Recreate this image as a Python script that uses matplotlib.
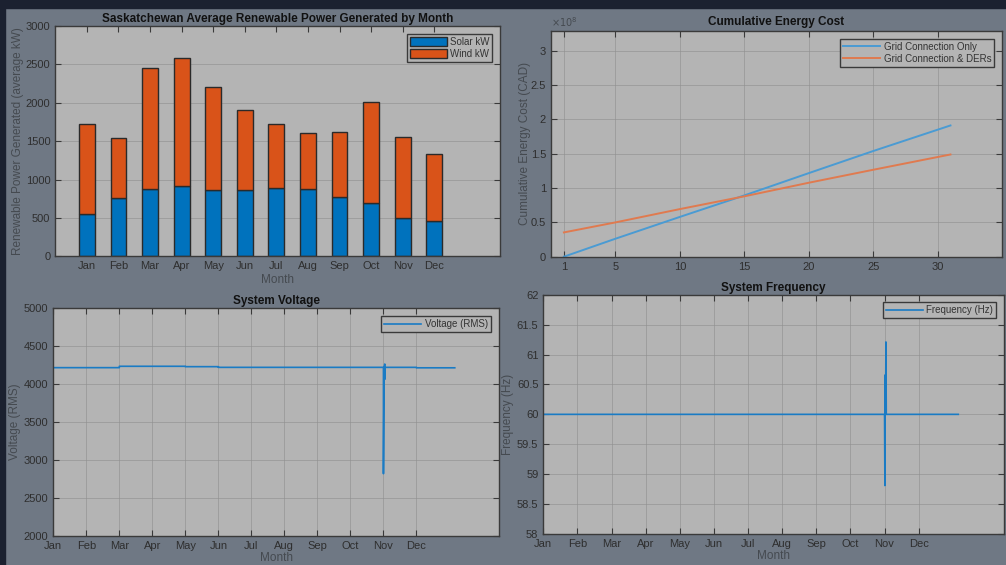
import numpy as np
import matplotlib
matplotlib.use("Agg")
import matplotlib.pyplot as plt
from matplotlib.patches import Rectangle
from matplotlib.ticker import FuncFormatter

# -----------------------------
# Data
# -----------------------------
MONTHS = ["Jan", "Feb", "Mar", "Apr", "May", "Jun",
          "Jul", "Aug", "Sep", "Oct", "Nov", "Dec"]
SOLAR_KW = [556, 755, 877, 912, 868, 868, 886, 877, 777, 695, 504, 456]
TOTAL_KW = [1728, 1546, 2449, 2588, 2201, 1906, 1719, 1607, 1624, 2006, 1554, 1337]

COST_DAY = [1, 5, 10, 15, 20, 25, 31]
COST_GRID = [0.0, 0.262e8, 0.580e8, 0.893e8, 1.218e8, 1.540e8, 1.913e8]
COST_DER = [0.354e8, 0.500e8, 0.694e8, 0.880e8, 1.078e8, 1.267e8, 1.490e8]

# time in months since Jan 1
VOLT_T = [0, 2.0, 2.0, 4.0, 4.0, 5.0, 5.0, 10.0, 10.0, 10.02, 10.04, 10.04,
          10.05, 11.0, 11.0, 12.16]
VOLT_V = [4218, 4218, 4236, 4236, 4231, 4231, 4222, 4222, 2821, 4222, 4266, 4064,
          4222, 4222, 4216, 4216]

FREQ_T = [0, 10.0, 10.01, 10.02, 10.03, 10.04, 10.05, 12.16]
FREQ_HZ = [60.0, 60.0, 58.81, 60.66, 60.0, 61.21, 60.0, 60.0]

# -----------------------------
# Style
# -----------------------------
FIG_BG = "#6f7884"
BORDER = "#1b2130"
AX_BG = "#b4b4b4"
GRID = "#8f8f8f"
SPINE = "#3a3a3a"
TICK_TXT = "#2e2e2e"
LABEL_TXT = "#454a50"
BLUE = "#0072bd"
ORANGE = "#d95319"

plt.rcParams["font.family"] = ["Liberation Sans", "DejaVu Sans"]
plt.rcParams["font.size"] = 8

W, H = 1006, 565
fig = plt.figure(figsize=(W / 100, H / 100), dpi=100, facecolor=FIG_BG)
fig.patches.append(Rectangle((0, 1 - 8 / H), 1, 8 / H, transform=fig.transFigure,
                             color=BORDER, zorder=-1))
fig.patches.append(Rectangle((0, 0), 5 / W, 1, transform=fig.transFigure,
                             color=BORDER, zorder=-1))


def px_axes(left, top, right, bottom):
    return fig.add_axes([left / W, 1 - bottom / H, (right - left) / W, (bottom - top) / H])


def style(ax, xgrid=True):
    ax.set_facecolor(AX_BG)
    for s in ax.spines.values():
        s.set_color(SPINE)
        s.set_linewidth(1.0)
    ax.tick_params(direction="in", top=True, right=True, colors=SPINE,
                   labelcolor=TICK_TXT, labelsize=8, length=4, width=0.8)
    ax.grid(axis="y", color=GRID, lw=0.6, alpha=0.7)
    if xgrid:
        ax.grid(axis="x", color=GRID, lw=0.6, alpha=0.7)
    ax.set_axisbelow(True)


def legend(ax, **kw):
    leg = ax.legend(loc="upper right", fontsize=7, frameon=True, fancybox=False,
                    borderaxespad=0.8, **kw)
    leg.get_frame().set_facecolor(AX_BG)
    leg.get_frame().set_edgecolor(SPINE)
    leg.get_frame().set_linewidth(1.0)
    leg.get_frame().set_alpha(1)
    for t in leg.get_texts():
        t.set_color("#333333")
    return leg


# -----------------------------
# Top left: stacked bars
# -----------------------------
ax1 = px_axes(55.3, 26, 500, 256.3)
style(ax1, xgrid=False)
x = np.arange(1, 13)
wind = np.array(TOTAL_KW) - np.array(SOLAR_KW)
ax1.bar(x, SOLAR_KW, width=0.5, color=BLUE, edgecolor="#2a2a2a", lw=1.0, label="Solar kW")
ax1.bar(x, wind, width=0.5, bottom=SOLAR_KW, color=ORANGE, edgecolor="#2a2a2a", lw=1.0,
        label="Wind kW")
ax1.set_xlim(0, 14.08)
ax1.set_ylim(0, 3000)
ax1.set_xticks(x)
ax1.set_xticklabels(MONTHS)
ax1.set_yticks(range(0, 3001, 500))
ax1.set_title("Saskatchewan Average Renewable Power Generated by Month",
              fontsize=8.5, fontweight="bold", color="#111111", pad=3)
ax1.set_xlabel("Month", color=LABEL_TXT, fontsize=8.5, labelpad=2)
ax1.set_ylabel("Renewable Power Generated (average kW)", color=LABEL_TXT, fontsize=8.5,
               labelpad=1)
legend(ax1, handlelength=3.8, handleheight=1.1, labelspacing=0.2, borderpad=0.3,
       handletextpad=0.3)

# -----------------------------
# Top right: cumulative cost
# -----------------------------
ax2 = px_axes(551, 31, 1002, 256.7)
style(ax2)
ax2.plot(COST_DAY, np.array(COST_GRID) / 1e8, color="#4a9bd3", lw=1.4,
         label="Grid Connection Only")
ax2.plot(COST_DAY, np.array(COST_DER) / 1e8, color="#e07a4f", lw=1.4,
         label="Grid Connection & DERs")
ax2.set_xlim(0, 35)
ax2.set_ylim(0, 3.29)
ax2.set_xticks([1, 5, 10, 15, 20, 25, 30])
ax2.set_yticks([0, 0.5, 1, 1.5, 2, 2.5, 3])
ax2.yaxis.set_major_formatter(FuncFormatter(lambda v, p: f"{v:g}"))
ax2.set_title("Cumulative Energy Cost", fontsize=8.5, fontweight="bold",
              color="#111111", pad=4)
ax2.set_ylabel("Cumulative Energy Cost (CAD)", color=LABEL_TXT, fontsize=8.5, labelpad=0)
ax2.text(0.0, 1.01, r"$\times10^{8}$", transform=ax2.transAxes, fontsize=7,
         color=LABEL_TXT, ha="left", va="bottom")
legend(ax2, handlelength=3.8, labelspacing=0.2, borderpad=0.3, handletextpad=0.4)

# -----------------------------
# Bottom left: voltage
# -----------------------------
ax3 = px_axes(53.3, 308.3, 499, 536)
style(ax3)
ax3.plot(VOLT_T, VOLT_V, color="#1a7bc4", lw=1.2, label="Voltage (RMS)")
ax3.set_xlim(0, 13.5)
ax3.set_ylim(2000, 5000)
ax3.set_xticks(range(12))
ax3.set_xticklabels(MONTHS)
ax3.set_yticks(range(2000, 5001, 500))
ax3.set_title("System Voltage", fontsize=8.5, fontweight="bold", color="#111111", pad=3)
ax3.set_xlabel("Month", color=LABEL_TXT, fontsize=8.5, labelpad=1)
ax3.set_ylabel("Voltage (RMS)", color=LABEL_TXT, fontsize=8.5, labelpad=2)
legend(ax3, handlelength=3.8, borderpad=0.3, handletextpad=0.4)

# -----------------------------
# Bottom right: frequency
# -----------------------------
ax4 = px_axes(543.3, 294.7, 1004, 534)
style(ax4)
ax4.plot(FREQ_T, FREQ_HZ, color="#1a7bc4", lw=1.2, label="Frequency (Hz)")
ax4.set_xlim(0, 13.5)
ax4.set_ylim(58, 62)
ax4.set_xticks(range(12))
ax4.set_xticklabels(MONTHS)
ax4.set_yticks(np.arange(58, 62.01, 0.5))
ax4.yaxis.set_major_formatter(FuncFormatter(lambda v, p: f"{v:g}"))
ax4.set_title("System Frequency", fontsize=8.5, fontweight="bold", color="#111111", pad=3)
ax4.set_xlabel("Month", color=LABEL_TXT, fontsize=8.5, labelpad=1)
ax4.set_ylabel("Frequency (Hz)", color=LABEL_TXT, fontsize=8.5, labelpad=2)
legend(ax4, handlelength=3.8, borderpad=0.3, handletextpad=0.4)

fig.savefig("out.png", dpi=100, facecolor=FIG_BG)
